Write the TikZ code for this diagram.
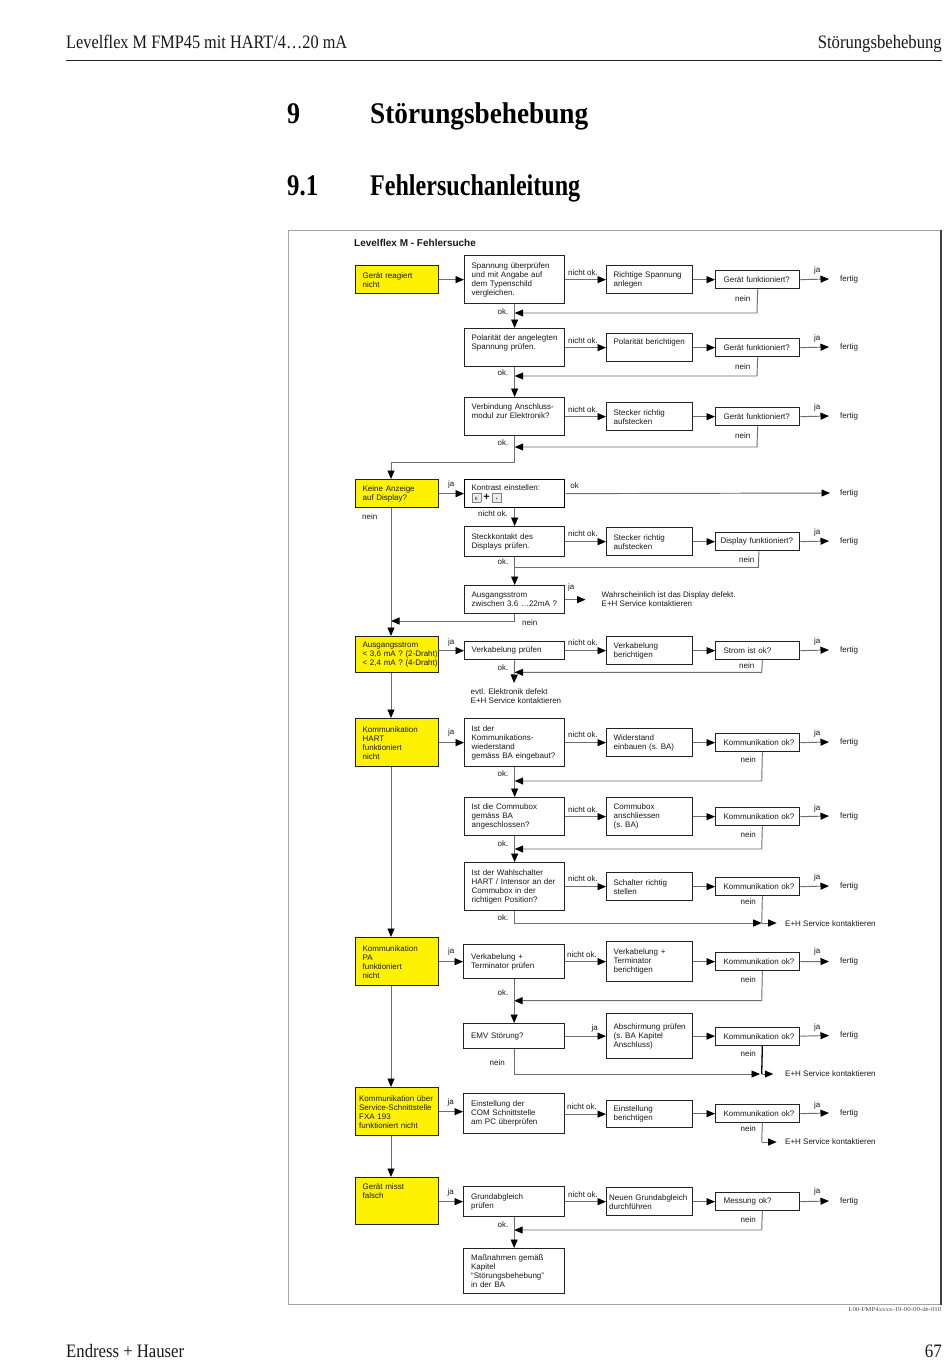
\documentclass[tikz,border=0pt]{standalone}
\usepackage{fontspec}
\usepackage{graphicx}
\setmainfont{Liberation Sans}
\newfontfamily\hfont{Liberation Serif}
\usetikzlibrary{arrows.meta}
\hyphenpenalty=10000
\exhyphenpenalty=10000
\definecolor{eyellow}{RGB}{255,242,0}
\definecolor{lgray}{RGB}{110,110,110}
\definecolor{bdark}{RGB}{35,35,35}
\definecolor{fgray}{RGB}{165,165,165}
\definecolor{tdark}{RGB}{25,25,25}
\newcommand\keycap[1]{{\setlength\fboxsep{0pt}\setlength\fboxrule{0.4pt}\fcolorbox{black!50}{black!7}{\makebox[8.5pt]{\rule[-1.5pt]{0pt}{8.5pt}\fontsize{4.5}{5}\selectfont #1}}}}
\begin{document}
\begin{tikzpicture}[x=1pt,y=-1pt,
  box/.style={draw=bdark, line width=1.3pt, anchor=north west, align=left, inner ysep=0pt, font=\fontsize{8}{9}\selectfont, text=tdark},
  mcol/.style={box, inner xsep=7pt, text width=86pt},
  mcolw/.style={box, inner xsep=7.5pt, text width=86pt},
  acol/.style={box, inner xsep=7pt, text width=72pt},
  ccol/.style={box, inner xsep=8pt, text width=68pt},
  ycol/.style={box, fill=eyellow, inner xsep=7pt, text width=69pt},
  lab/.style={inner sep=0pt, font=\fontsize{8}{9}\selectfont, text=tdark},
  hdr/.style={inner sep=0pt, font=\hfont\fontsize{19}{19}\selectfont, text=black!90},
  ttl/.style={inner sep=0pt, anchor=base west, font=\hfont\bfseries\fontsize{30}{30}\selectfont, text=black},
  ln/.style={draw=lgray, line width=0.95pt},
  arr/.style={ln, -{Triangle[length=8.5pt,width=7pt,color=black]}},
]
\path[use as bounding box, fill=white] (0,0) rectangle (950,1370);

% ---------- page header / titles / footer ----------
\node[hdr, anchor=base west] (hl) at (66,48.5) {\resizebox{281pt}{\height}{Levelflex M FMP45 mit HART/4…20 mA}};
\node[hdr, anchor=base east] (hr) at (942,48.5) {\resizebox{124pt}{\height}{Störungsbehebung}};
\draw[line width=1pt, black!85] (66,61) -- (942,61);
\node[ttl] (c9) at (287,123.3) {\resizebox{13pt}{\height}{9}};
\node[ttl] (c9t) at (370,123.3) {\resizebox{218pt}{\height}{Störungsbehebung}};
\node[ttl] (s91) at (287,195) {\resizebox{31pt}{\height}{9.1}};
\node[ttl] (s91t) at (370,195) {\resizebox{210pt}{\height}{Fehlersuchanleitung}};
\node[hdr, anchor=base west] (fl) at (66,1357) {\resizebox{118pt}{\height}{Endress + Hauser}};
\node[hdr, anchor=base east] (fr) at (942,1357) {\resizebox{17pt}{\height}{67}};

% ---------- frame ----------
\draw[fgray, line width=1pt] (288,230) rectangle (941,1304.5);
\draw[black!75, line width=1.3pt] (941,230) -- (941,1304.5);
\node[inner sep=0pt, anchor=north east, font=\hfont\fontsize{6}{6}\selectfont, text=black!70] (fn) at (941.5,1307.5) {\resizebox{93pt}{\height}{L00-FMP4xxxx-19-00-00-de-010}};
\node[inner sep=0pt, anchor=base west, font=\bfseries\fontsize{10}{10}\selectfont, text=tdark] (ft) at (354,246.6) {Levelflex M - Fehlersuche};

% ---------- section 1: Gerät reagiert nicht ----------
\node[ycol, minimum height=28pt] (y1) at (355,265) {Gerät~reagiert\\nicht};
\node[mcol, minimum height=48pt] (b1) at (464,255) {Spannung~überprüfen\\und~mit~Angabe~auf\\dem~Typenschild\\vergleichen.};
\node[acol, minimum height=28pt] (a1) at (606,265) {Richtige~Spannung\\anlegen};
\node[ccol, minimum height=18pt] (c1) at (715,270) {Gerät~funktioniert?};
\node[lab, anchor=west] (f1) at (840,279) {fertig};

\node[mcol, minimum height=38pt] (b2) at (464,328) {Polarität~der~angelegten\\Spannung~prüfen.\\\strut};
\node[acol, minimum height=28pt] (a2) at (606,333) {Polarität~berichtigen\\\strut};
\node[ccol, minimum height=18pt] (c2) at (715,338) {Gerät~funktioniert?};
\node[lab, anchor=west] (f2) at (840,347) {fertig};

\node[mcol, minimum height=38pt] (b3) at (464,397) {Verbindung~Anschluss-\\modul~zur~Elektronik?\\\strut};
\node[acol, minimum height=28pt] (a3) at (606,402) {Stecker~richtig\\aufstecken};
\node[ccol, minimum height=18pt] (c3) at (715,407) {Gerät~funktioniert?};
\node[lab, anchor=west] (f3) at (840,416) {fertig};

\draw[arr] (y1.east) -- (b1.west |- y1.east);
\draw[arr] (b1.east |- a1.west) -- (a1.west);
\draw[arr] (a1.east |- c1.west) -- (c1.west);
\draw[arr] (c1.east) -- ([xshift=-11pt]f1.west);
\draw[arr] (c1.south) -- (757,313) -- (b1.south |- 0,313);
\draw[arr] (b1.south) -- (b2.north);
\draw[arr] (b2.east |- a2.west) -- (a2.west);
\draw[arr] (a2.east |- c2.west) -- (c2.west);
\draw[arr] (c2.east) -- ([xshift=-11pt]f2.west);
\draw[arr] (c2.south) -- (757,376) -- (b2.south |- 0,376);
\draw[arr] (b2.south) -- (b3.north);
\draw[arr] (b3.east |- a3.west) -- (a3.west);
\draw[arr] (a3.east |- c3.west) -- (c3.west);
\draw[arr] (c3.east) -- ([xshift=-11pt]f3.west);
\draw[arr] (c3.south) -- (757,447) -- (b3.south |- 0,447);

\node[lab] (n1) at (583,272.5) {nicht ok.};
\node[lab] (n2) at (583,340.5) {nicht ok.};
\node[lab] (n3) at (583,409.5) {nicht ok.};
\node[lab] (j1) at (817.3,270.5) {ja};
\node[lab] (j2) at (817.3,338.5) {ja};
\node[lab] (j3) at (817.3,407.5) {ja};
\node[lab] (e1) at (742.7,299) {nein};
\node[lab] (e2) at (742.7,366.7) {nein};
\node[lab] (e3) at (742.7,435.7) {nein};
\node[lab] (o1) at (503,311.7) {ok.};
\node[lab] (o2) at (503,372.7) {ok.};
\node[lab] (o3) at (503,443) {ok.};

% ---------- section 2: Keine Anzeige ----------
\node[ycol, minimum height=28pt] (yk) at (355,479) {Keine~Anzeige\\auf~Display?};
\node[mcol, minimum height=28pt, draw=black] (bk) at (464,479) {Kontrast~einstellen:\\[1pt]\keycap{E}\hspace{2.5pt}{\fontsize{11}{9}\selectfont\bfseries +}\hspace{2.5pt}\keycap{+}};
\node[lab, anchor=west] (fk) at (840,493) {fertig};
\draw[arr] (b3.south) -- (b3.south |- 0,462) -- (391,462) -- (yk.north -| 391,0);
\draw[arr] (yk.east) -- (bk.west |- yk.east);
\draw[arr] (bk.east) -- ([xshift=-10pt]fk.west);
\node[lab] (jk) at (451.3,484) {ja};
\node[lab] (ok) at (574.7,486) {ok};
\node[lab] (nk) at (493,513.3) {nicht ok.};
\node[lab] (ek) at (369.7,516.7) {nein};

\node[mcol, minimum height=30pt] (bs) at (464,526) {Steckkontakt~des\\Displays~prüfen.};
\node[acol, minimum height=28pt] (as) at (606,527) {Stecker~richtig\\aufstecken};
\node[box, inner xsep=5pt, text width=74pt, minimum height=18pt] (cs) at (715,532) {Display~funktioniert?};
\node[lab, anchor=west] (fs) at (840,541) {fertig};
\draw[arr] (bk.south) -- (bs.north);
\draw[arr] (bs.east |- as.west) -- (as.west);
\draw[arr] (as.east |- cs.west) -- (cs.west);
\draw[arr] (cs.east) -- ([xshift=-11pt]fs.west);
\draw[ln] ([xshift=1.3pt]cs.south) -- (758.3,567.5) -- (bs.south |- 0,567.5);
\node[lab] (ns) at (583,534) {nicht ok.};
\node[lab] (js) at (817.3,532.5) {ja};
\node[lab] (es) at (746.7,559.3) {nein};
\node[lab] (os) at (503,561.7) {ok.};

\node[mcol, minimum height=28pt] (ba) at (464,585) {Ausgangsstrom\\zwischen~3.6~…22mA~?};
\node[lab, anchor=west, align=left] (wt) at (601.5,598.7) {Wahrscheinlich ist das Display defekt.\\E+H Service kontaktieren};
\draw[arr] (bs.south) -- (ba.north);
\draw[arr] (ba.east) -- ([xshift=-16pt]wt.west |- ba.east);
\draw[arr] (ba.south) -- (ba.south |- 0,621) -- (391,621);
\node[lab] (ja) at (571.3,587.7) {ja};
\node[lab] (ea) at (529.7,622.3) {nein};

% ---------- section 3: Ausgangsstrom ----------
\node[ycol, minimum height=36pt] (ya) at (355,636) {Ausgangsstrom\\<~3,6~mA~?~(2-Draht)\\<~2,4~mA~?~(4-Draht)};
\node[mcol, minimum height=18pt] (bv) at (464,641) {Verkabelung~prüfen};
\node[acol, minimum height=28pt] (av) at (606,636) {Verkabelung\\berichtigen};
\node[ccol, minimum height=18pt] (cv) at (715,641) {Strom~ist~ok?};
\node[lab, anchor=west] (fv) at (840,650) {fertig};
\coordinate (evtop) at (514,683);
\node[lab, anchor=north west, align=left] (ev) at (470.5,688.8) {evtl. Elektronik defekt\\E+H Service kontaktieren};
\draw[arr] (yk.south -| 391,0) -- (ya.north -| 391,0);
\draw[arr] (ya.east |- bv.west) -- (bv.west);
\draw[arr] (bv.east) -- (av.west |- bv.east);
\draw[arr] (av.east |- cv.west) -- (cv.west);
\draw[arr] (cv.east) -- ([xshift=-11pt]fv.west);
\draw[arr] ([xshift=4.7pt]cv.south) -- (761.7,672.3) -- (bv.south |- 0,672.3);
\draw[arr] (bv.south) -- (evtop);
\node[lab] (jv) at (451.3,642.7) {ja};
\node[lab] (nv) at (583,642.5) {nicht ok.};
\node[lab] (jv2) at (817.3,641) {ja};
\node[lab] (ev2) at (746.7,665.7) {nein};
\node[lab] (ov) at (503,667.3) {ok.};

% ---------- section 4: HART ----------
\node[ycol, minimum height=48pt] (yh) at (355,718) {Kommunikation\\HART\\funktioniert\\nicht};
\node[mcol, minimum height=48pt] (bh1) at (464,718) {Ist~der\\Kommunikations-\\wiederstand\\gemäss~BA~eingebaut?};
\node[acol, minimum height=28pt] (ah1) at (606,728) {Widerstand\\einbauen~(s.~BA)};
\node[ccol, minimum height=18pt] (ch1) at (715,733) {Kommunikation~ok?};
\node[lab, anchor=west] (fh1) at (840,742) {fertig};

\node[mcol, minimum height=38pt] (bh2) at (464,797) {Ist~die~Commubox\\gemäss~BA\\angeschlossen?};
\node[acol, minimum height=38pt] (ah2) at (606,797) {Commubox\\anschliessen\\(s.~BA)};
\node[ccol, minimum height=18pt] (ch2) at (715,807) {Kommunikation~ok?};
\node[lab, anchor=west] (fh2) at (840,816) {fertig};

\node[mcol, minimum height=48pt] (bh3) at (464,862) {Ist~der~Wahlschalter\\HART~/~Intensor~an~der\\Commubox~in~der\\richtigen~Position?};
\node[acol, minimum height=28pt] (ah3) at (606,872) {Schalter~richtig\\stellen};
\node[ccol, minimum height=18pt] (ch3) at (715,877) {Kommunikation~ok?};
\node[lab, anchor=west] (fh3) at (840,886) {fertig};
\node[lab, anchor=west] (eh1) at (785,923.5) {E+H Service kontaktieren};
\coordinate (k3) at (761.7,923);

\draw[arr] (ya.south -| 391,0) -- (yh.north -| 391,0);
\draw[arr] (yh.east) -- (bh1.west |- yh.east);
\draw[arr] (bh1.east) -- (ah1.west |- bh1.east);
\draw[arr] (ah1.east |- ch1.west) -- (ch1.west);
\draw[arr] (ch1.east) -- ([xshift=-11pt]fh1.west);
\draw[arr] ([xshift=4.7pt]ch1.south) -- (761.7,781) -- (bh1.south |- 0,781);
\draw[arr] (bh1.south) -- (bh2.north);
\draw[arr] (bh2.east) -- (ah2.west |- bh2.east);
\draw[arr] (ah2.east |- ch2.west) -- (ch2.west);
\draw[arr] (ch2.east) -- ([xshift=-11pt]fh2.west);
\draw[arr] ([xshift=4.7pt]ch2.south) -- (761.7,849) -- (bh2.south |- 0,849);
\draw[arr] (bh2.south) -- (bh3.north);
\draw[arr] (bh3.east) -- (ah3.west |- bh3.east);
\draw[arr] (ah3.east |- ch3.west) -- (ch3.west);
\draw[arr] (ch3.east) -- ([xshift=-11pt]fh3.west);
\draw[ln] ([xshift=4.7pt]ch3.south) -- (k3);
\draw[arr] (k3) -- ([xshift=-8.3pt]eh1.west |- k3);
\draw[arr] (bh3.south) -- (bh3.south |- k3) -- (k3);

\node[lab] (jh) at (451.3,732.3) {ja};
\node[lab] (nh1) at (583,735) {nicht ok.};
\node[lab] (nh2) at (583,809.5) {nicht ok.};
\node[lab] (nh3) at (583,879) {nicht ok.};
\node[lab] (jh1) at (817.3,733.3) {ja};
\node[lab] (jh2) at (817.3,808) {ja};
\node[lab] (jh3) at (817.3,877) {ja};
\node[lab] (eh1n) at (748.3,760) {nein};
\node[lab] (eh2n) at (748.3,835) {nein};
\node[lab] (eh3n) at (748.3,901.7) {nein};
\node[lab] (oh1) at (503,774) {ok.};
\node[lab] (oh2) at (503,844) {ok.};
\node[lab] (oh3) at (503,917.3) {ok.};

% ---------- section 5: PA ----------
\node[ycol, minimum height=48pt] (yp) at (355,937) {Kommunikation\\PA\\funktioniert\\nicht};
\node[mcolw, minimum height=34pt] (bp1) at (463,944) {Verkabelung~+\\Terminator~prüfen};
\node[acol, minimum height=40pt] (ap1) at (606,941) {Verkabelung~+\\Terminator\\berichtigen};
\node[ccol, minimum height=18pt] (cp1) at (715,952) {Kommunikation~ok?};
\node[lab, anchor=west] (fp1) at (840,961.5) {fertig};

\node[mcolw, minimum height=25pt] (bp2) at (463,1023) {EMV~Störung?};
\node[acol, minimum height=45pt] (ap2) at (606,1013) {Abschirmung~prüfen\\(s.~BA~Kapitel\\Anschluss)};
\node[ccol, minimum height=18pt] (cp2) at (715,1026.5) {Kommunikation~ok?};
\node[lab, anchor=west] (fp2) at (840,1035.5) {fertig};
\node[lab, anchor=west] (eh2) at (785,1074) {E+H Service kontaktieren};
\coordinate (k5) at (761.7,1074);

\draw[arr] (yh.south -| 391,0) -- (yp.north -| 391,0);
\draw[arr] (yp.east) -- (bp1.west |- yp.east);
\draw[arr] (bp1.east) -- (ap1.west |- bp1.east);
\draw[arr] (ap1.east |- cp1.west) -- (cp1.west);
\draw[arr] (cp1.east) -- ([xshift=-11pt]fp1.west);
\draw[arr] ([xshift=4.7pt]cp1.south) -- (761.7,1000.7) -- (bp1.south |- 0,1000.7);
\draw[arr] (bp1.south) -- (bp2.north);
\draw[arr] (bp2.east) -- (ap2.west |- bp2.east);
\draw[arr] (ap2.east |- cp2.west) -- (cp2.west);
\draw[arr] (cp2.east) -- ([xshift=-11pt]fp2.west);
\draw[black, line width=1.3pt] ([xshift=4.7pt]cp2.south) -- (k5);
\draw[arr] (k5) -- ([xshift=-11.7pt]eh2.west |- k5);
\draw[arr] (bp2.south) -- (bp2.south |- k5) -- ([xshift=-1.7pt]k5);

\node[lab] (jp) at (451.3,951.7) {ja};
\node[lab] (np1) at (582,954.5) {nicht ok.};
\node[lab] (jp1) at (817.3,951) {ja};
\node[lab] (ep1) at (748.3,979.3) {nein};
\node[lab] (op1) at (503,992.7) {ok.};
\node[lab] (jp2) at (594.7,1028.3) {ja};
\node[lab] (jp3) at (817.3,1027.3) {ja};
\node[lab] (ep2) at (748.3,1054) {nein};
\node[lab] (ep3) at (497.3,1062.7) {nein};

% ---------- section 6: FXA 193 ----------
\node[ycol, inner xsep=3.5pt, text width=76pt, minimum height=48pt] (yf) at (355,1087) {Kommunikation~über\\Service-Schnittstelle\\FXA~193\\funktioniert~nicht};
\node[mcolw, minimum height=40pt] (bf) at (463,1093) {Einstellung~der\\COM~Schnittstelle\\am~PC~überprüfen};
\node[acol, minimum height=27pt] (af) at (606,1100) {Einstellung\\berichtigen};
\node[ccol, minimum height=18pt] (cf) at (715,1104) {Kommunikation~ok?};
\node[lab, anchor=west] (ff) at (840,1113) {fertig};
\node[lab, anchor=west] (eh3) at (785,1142) {E+H Service kontaktieren};
\coordinate (k6) at (761.7,1142);

\draw[arr] (yp.south -| 391,0) -- (yf.north -| 391,0);
\draw[arr] (yf.east) -- (bf.west |- yf.east);
\draw[arr] (bf.east |- af.west) -- (af.west);
\draw[arr] (af.east |- cf.west) -- (cf.west);
\draw[arr] (cf.east) -- ([xshift=-11pt]ff.west);
\draw[ln] ([xshift=4.7pt]cf.south) -- (k6);
\draw[arr] (k6) -- ([xshift=-8.3pt]eh3.west |- k6);

\node[lab] (jf) at (450.7,1102.7) {ja};
\node[lab] (nf) at (582,1106.5) {nicht ok.};
\node[lab] (jf1) at (817.3,1105) {ja};
\node[lab] (ef) at (748.3,1128.3) {nein};

% ---------- section 7: Gerät misst falsch ----------
\node[ycol, minimum height=47pt] (ym) at (355,1177) {Gerät~misst\\falsch\\\strut\\\strut};
\node[mcolw, minimum height=30pt] (bm) at (463,1186) {Grundabgleich\\prüfen};
\node[box, inner xsep=2.5pt, text width=81pt, minimum height=28pt] (am) at (606,1187) {Neuen~Grundabgleich\\durchführen};
\node[ccol, minimum height=18pt] (cm) at (715,1192) {Messung~ok?};
\node[lab, anchor=west] (fm) at (840,1201) {fertig};
\node[mcolw, minimum height=45pt] (bm2) at (463,1248) {Maßnahmen~gemäß\\Kapitel\\“Störungsbehebung”\\in~der~BA};

\draw[arr] (yf.south -| 391,0) -- (ym.north -| 391,0);
\draw[arr] (ym.east |- bm.west) -- (bm.west);
\draw[arr] (bm.east |- am.west) -- (am.west);
\draw[arr] (am.east |- cm.west) -- (cm.west);
\draw[arr] (cm.east) -- ([xshift=-11pt]fm.west);
\draw[arr] ([xshift=4.7pt]cm.south) -- (761.7,1230) -- (bm.south |- 0,1230);
\draw[arr] (bm.south) -- (bm2.north);

\node[lab] (jm) at (450.7,1192.7) {ja};
\node[lab] (nm) at (583,1194.3) {nicht ok.};
\node[lab] (jm1) at (817.3,1191) {ja};
\node[lab] (em) at (748.3,1220) {nein};
\node[lab] (om) at (503,1225) {ok.};
\end{tikzpicture}
\end{document}
